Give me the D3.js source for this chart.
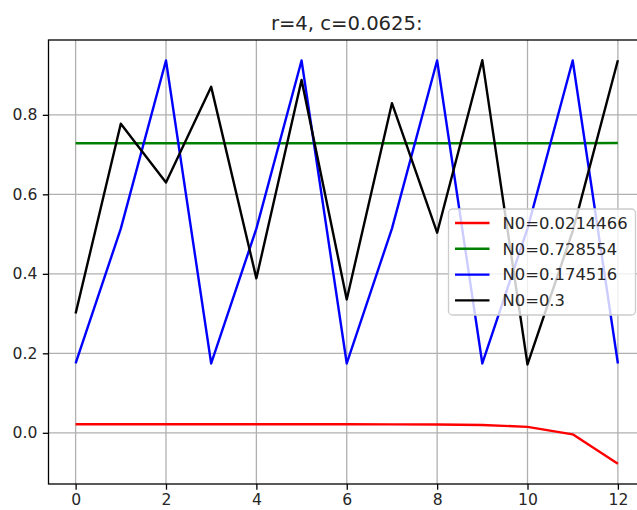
<!DOCTYPE html>
<html>
<head>
<meta charset="utf-8">
<script src="https://cdn.jsdelivr.net/npm/d3@7"></script>
<style>
  body { margin: 0; background: #fff; }
  text { font-family: "DejaVu Sans", sans-serif; fill: #262626; }
  .grid line { stroke: #b0b0b0; stroke-width: 1.3; }
</style>
</head>
<body>
<div class="chart"></div>
<script>
// values (r=4, c=0.0625)
const steps = d3.range(0, 13);
const labels = ["N0=0.0214466", "N0=0.728554", "N0=0.174516", "N0=0.3"];
const colors = ["#ff0000", "#008000", "#0000ff", "#000000"];
const redVals = [0.02145, 0.02145, 0.02145, 0.02145, 0.02145, 0.02144, 0.02142, 0.02133, 0.02100, 0.01973, 0.01487, -0.00386, -0.078];
const greenVals = [0.7286, 0.7286, 0.7286, 0.7286, 0.7286, 0.7286, 0.7286, 0.7286, 0.7286, 0.7286, 0.7286, 0.7285, 0.7290];
const blueVals = [0.1745, 0.5137, 0.9367, 0.1745, 0.5137, 0.9367, 0.1745, 0.5138, 0.9368, 0.1745, 0.5138, 0.9368, 0.1745];
const blackVals = [0.3, 0.7775, 0.6295, 0.8704, 0.3886, 0.8879, 0.3356, 0.8294, 0.5034, 0.9375, 0.1720, 0.5073, 0.9373];
const xTicks = [0, 2, 4, 6, 8, 10, 12];
const yTicks = [0.0, 0.2, 0.4, 0.6, 0.8];

const series = [redVals, greenVals, blueVals, blackVals];

const W = 637, H = 510;
const margin = {top: 40, right: -8, bottom: 26, left: 48.5},
  width = W - margin.left - margin.right,
  height = H - margin.top - margin.bottom;

const svg = d3.select(".chart").append("svg")
    .attr("width", W)
    .attr("height", H);

svg.append("text")
    .attr("x", margin.left + width / 2)
    .attr("y", 29.5)
    .style("text-anchor", "middle")
    .style("font-size", "19.6px")
    .text("r=4, c=0.0625:");

const g = svg.append("g")
    .attr("transform", "translate(" + margin.left + "," + margin.top + ")");

// matplotlib style 5% margins
const xPad = 0.05 * 12;
const x = d3.scaleLinear().domain([-xPad, 12 + xPad]).range([0, width]);
const all = d3.merge(series);
const lo = d3.min(all), hi = d3.max(all), yPad = 0.05 * (hi - lo);
const y = d3.scaleLinear().domain([lo - yPad, hi + yPad]).range([height, 0]);

// grid
g.append("g").attr("class", "grid")
  .selectAll("line").data(xTicks).enter().append("line")
    .attr("x1", d => x(d)).attr("x2", d => x(d))
    .attr("y1", 0).attr("y2", height);
g.append("g").attr("class", "grid")
  .selectAll("line").data(yTicks).enter().append("line")
    .attr("x1", 0).attr("x2", width)
    .attr("y1", d => y(d)).attr("y2", d => y(d));

// lines
const line = d3.line().x((d, i) => x(steps[i])).y(d => y(d));
g.append("g").selectAll("path")
    .data(series)
  .enter().append("path")
    .attr("d", line)
    .attr("fill", "none")
    .attr("stroke", (d, i) => colors[i])
    .attr("stroke-width", 2.4)
    .attr("stroke-linejoin", "round");

// axes
const xAxis = g.append("g")
    .attr("transform", "translate(0," + height + ")")
    .call(d3.axisBottom(x).tickValues(xTicks).tickFormat(d3.format("d")).tickSize(5.7).tickPadding(4.5));
const yAxis = g.append("g")
    .call(d3.axisLeft(y).tickValues(yTicks).tickFormat(d3.format(".1f")).tickSize(5.7).tickPadding(5.5));
[xAxis, yAxis].forEach(a => {
  a.select(".domain").remove();
  a.selectAll("line").attr("stroke", "#000").attr("stroke-width", 1.3);
  a.selectAll("text").style("font-size", "15.6px").attr("fill", "#262626")
    .style("font-family", "'DejaVu Sans', sans-serif");
});

// frame
g.append("rect")
    .attr("x", 0).attr("y", 0)
    .attr("width", width).attr("height", height)
    .attr("fill", "none")
    .attr("stroke", "#000")
    .attr("stroke-width", 1.3);

// legend (center right)
const legW = 187, legH = 106, rowH = 25.8;
const legend = g.append("g")
    .attr("transform", "translate(" + (width - 9.5 - legW) + "," + (height / 2 - legH / 2) + ")");
legend.append("rect")
    .attr("width", legW).attr("height", legH)
    .attr("rx", 4)
    .attr("fill", "#fff").attr("fill-opacity", 0.8)
    .attr("stroke", "#cccccc").attr("stroke-width", 1.3);
const rows = legend.selectAll(".row")
    .data(labels)
  .enter().append("g")
    .attr("class", "row")
    .attr("transform", (d, i) => "translate(0," + (14 + i * rowH) + ")");
rows.append("line")
    .attr("x1", 6.5).attr("x2", 41)
    .attr("stroke", (d, i) => colors[i])
    .attr("stroke-width", 2.4);
rows.append("text")
    .attr("x", 54)
    .attr("dy", "0.35em")
    .style("font-size", "16.4px")
    .text(d => d);
</script>
</body>
</html>
